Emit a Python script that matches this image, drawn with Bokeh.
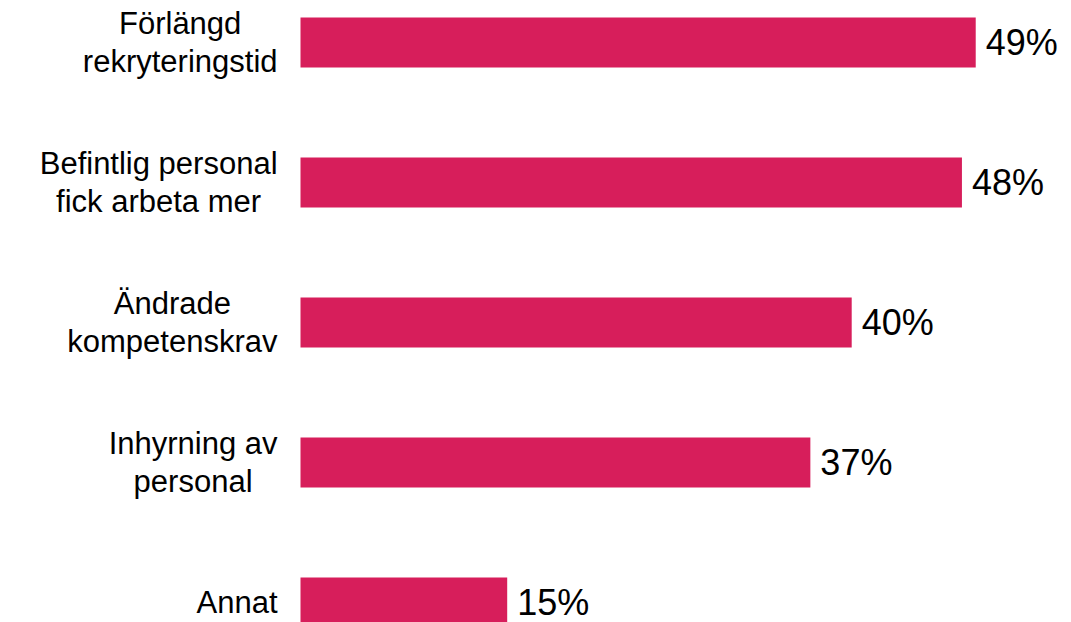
from bokeh.plotting import figure
from bokeh.models import ColumnDataSource, Range1d
from bokeh.embed import file_html
from bokeh.resources import INLINE
from bokeh.core.properties import value

# Data
categories = ["Förlängd\nrekryteringstid",
              "Befintlig personal\nfick arbeta mer",
              "Ändrade\nkompetenskrav",
              "Inhyrning av\npersonal",
              "Annat"]
values = [49, 48, 40, 37, 15]
value_labels = ["49%", "48%", "40%", "37%", "15%"]

BAR_COLOR = "#D71E5B"
LABEL_FONT_PX = 31
VALUE_FONT_PX = 36

# Approximate Arial/Liberation Sans advance widths (per 1000 em)
W = {" ": 278, "A": 667, "B": 667, "F": 611, "I": 278, "Ä": 667,
     "a": 556, "ä": 556, "c": 500, "d": 556, "e": 556, "f": 278, "g": 556,
     "h": 556, "i": 222, "k": 500, "l": 222, "m": 833, "n": 556, "o": 556,
     "ö": 556, "p": 556, "r": 333, "s": 500, "t": 278, "v": 500, "y": 500}


def text_width(s, px):
    return sum(W.get(ch, 556) for ch in s) * px / 1000.0


gap = 23
label_offsets = []
for c in categories:
    w = max(text_width(line, LABEL_FONT_PX) for line in c.split("\n"))
    label_offsets.append(-(gap + w / 2.0))

idx = list(range(len(categories)))
src = ColumnDataSource(dict(y=idx, v=values, cat=categories, vl=value_labels,
                            zero=[0] * len(idx), loff=label_offsets))

px_per_unit = 13.78
left_px = 300
width, height = 1071, 622
row = 140
first_center = 42

x_range = Range1d(-left_px / px_per_unit, (width - left_px) / px_per_unit)
y_range = Range1d((height - first_center) / row, -first_center / row)

p = figure(width=width, height=height, x_range=x_range, y_range=y_range,
           output_backend="svg", toolbar_location=None,
           x_axis_location=None, y_axis_location=None, min_border=0)
p.xgrid.visible = False
p.ygrid.visible = False
p.outline_line_color = None
p.background_fill_color = "white"
p.border_fill_color = "white"

p.hbar(y="y", left="zero", right="v", height=50 / row, source=src,
       fill_color=BAR_COLOR, line_color=None)

p.text(x="v", y="y", text="vl", source=src, x_offset=10,
       text_align="left", text_baseline="middle",
       text_font=value("Liberation Sans"), text_font_size=f"{VALUE_FONT_PX}px",
       text_color="black")

p.text(x="zero", y="y", text="cat", source=src, x_offset="loff",
       text_align="center", text_baseline="middle", text_line_height=1.1,
       text_font=value("Liberation Sans"), text_font_size=f"{LABEL_FONT_PX}px",
       text_color="black")

open("out.html", "w").write(file_html(p, INLINE))
